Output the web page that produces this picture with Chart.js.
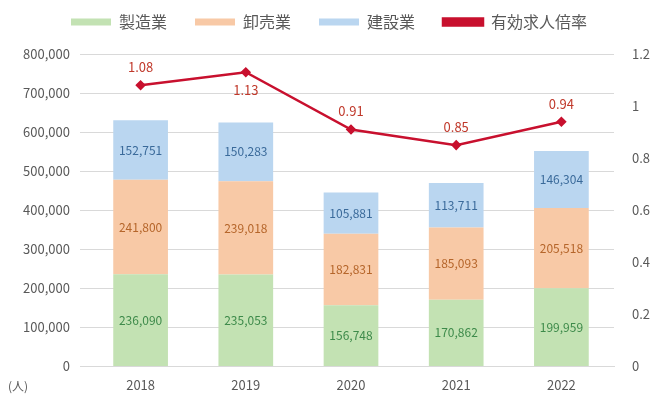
<!DOCTYPE html>
<html>
<head>
<meta charset="utf-8">
<script src="https://cdn.jsdelivr.net/npm/chart.js@4"></script>
<style>
  html, body { margin: 0; padding: 0; background: #fff; }
  #wrap { width: 654px; height: 400px; }
</style>
</head>
<body>
<div id="wrap"><canvas id="myChart"></canvas></div>
<script>
const years = ["2018", "2019", "2020", "2021", "2022"];
const seriesA = [236090, 235053, 156748, 170862, 199959];
const seriesB = [241800, 239018, 182831, 185093, 205518];
const seriesC = [152751, 150283, 105881, 113711, 146304];
const ratio = [1.08, 1.13, 0.91, 0.85, 0.94];
const seriesNames = ["製造業", "卸売業", "建設業", "有効求人倍率"];
const leftTicks = [0, 100000, 200000, 300000, 400000, 500000, 600000, 700000, 800000];
const rightTicks = [0, 0.2, 0.4, 0.6, 0.8, 1, 1.2];

const FONT = "'Noto Sans CJK JP', 'Noto Sans', sans-serif";

// draws value labels on bars and line points
const valueLabels = {
  id: "valueLabels",
  afterDatasetsDraw(chart) {
    const ctx = chart.ctx;
    ctx.save();
    ctx.textAlign = "center";
    ctx.textBaseline = "middle";
    chart.data.datasets.forEach((ds, i) => {
      const meta = chart.getDatasetMeta(i);
      meta.data.forEach((el, j) => {
        const v = ds.data[j];
        if (ds.type === "line") {
          const below = j === 1;
          ctx.font = "13px " + FONT;
          ctx.fillStyle = "#c0392b";
          ctx.fillText(v.toFixed(2), el.x, el.y + (below ? 18 : -18));
        } else {
          const mid = (el.y + el.base) / 2;
          ctx.font = "12px " + FONT;
          ctx.fillStyle = ds.labelColor;
          ctx.fillText(v.toLocaleString("en-US"), el.x, mid);
        }
      });
    });
    // unit label
    ctx.font = "12px " + FONT;
    ctx.fillStyle = "#595959";
    ctx.textAlign = "left";
    ctx.fillText("(人)", 8, 386);
    ctx.restore();
  },
};

// push the plot area down a bit below the legend
const legendGap = {
  id: "legendGap",
  beforeInit(chart) {
    const fit = chart.legend.fit;
    chart.legend.fit = function () {
      fit.bind(chart.legend)();
      this.height += 14;
    };
  },
};

const ctx = document.getElementById("myChart");

new Chart(ctx, {
  data: {
    labels: years,
    datasets: [
      {
        type: "bar",
        label: seriesNames[0],
        data: seriesA,
        backgroundColor: "#c3e2b3",
        labelColor: "#3d8a4a",
        stack: "s",
        yAxisID: "y",
      },
      {
        type: "bar",
        label: seriesNames[1],
        data: seriesB,
        backgroundColor: "#f8c9a6",
        labelColor: "#b5652a",
        stack: "s",
        yAxisID: "y",
      },
      {
        type: "bar",
        label: seriesNames[2],
        data: seriesC,
        backgroundColor: "#bad6f0",
        labelColor: "#3a6a9a",
        stack: "s",
        yAxisID: "y",
      },
      {
        type: "line",
        label: seriesNames[3],
        data: ratio,
        borderColor: "#c8102e",
        backgroundColor: "#c8102e",
        borderWidth: 2.5,
        pointRadius: 3.5,
        pointStyle: "rectRot",
        yAxisID: "y1",
        order: -1,
      },
    ],
  },
  options: {
    responsive: true,
    maintainAspectRatio: false,
    animation: false,
    layout: { padding: { left: 8, right: 4, top: -14, bottom: 4 } },
    datasets: {
      bar: { barPercentage: 0.52, categoryPercentage: 1 },
    },
    plugins: {
      legend: {
        position: "top",
        labels: {
          font: { size: 16, family: FONT },
          color: "#595959",
          boxWidth: 40,
          boxHeight: 7,
          padding: 28,
          sort: (a, b) => a.datasetIndex - b.datasetIndex,
        },
      },
      tooltip: { enabled: false },
    },
    scales: {
      x: {
        stacked: true,
        grid: { display: false },
        border: { color: "#d9d9d9" },
        ticks: { color: "#595959", font: { size: 13, family: FONT } },
      },
      y: {
        stacked: true,
        min: 0,
        max: 800000,
        afterBuildTicks: (axis) => {
          axis.ticks = leftTicks.map((v) => ({ value: v }));
        },
        afterFit: (axis) => {
          axis.width = 80;
        },
        grid: { color: "#d9d9d9" },
        border: { display: false },
        ticks: {
          color: "#595959",
          font: { size: 13, family: FONT },
          padding: 10,
          callback: (v) => v.toLocaleString("en-US"),
        },
      },
      y1: {
        position: "right",
        min: 0,
        max: 1.2,
        afterBuildTicks: (axis) => {
          axis.ticks = rightTicks.map((v) => ({ value: v }));
        },
        afterFit: (axis) => {
          axis.width = 36;
        },
        grid: { display: false },
        border: { display: false },
        ticks: {
          color: "#595959",
          font: { size: 13, family: FONT },
          padding: 10,
          callback: (v) => String(Math.round(v * 10) / 10),
        },
      },
    },
  },
  plugins: [valueLabels, legendGap],
});
</script>
</body>
</html>
